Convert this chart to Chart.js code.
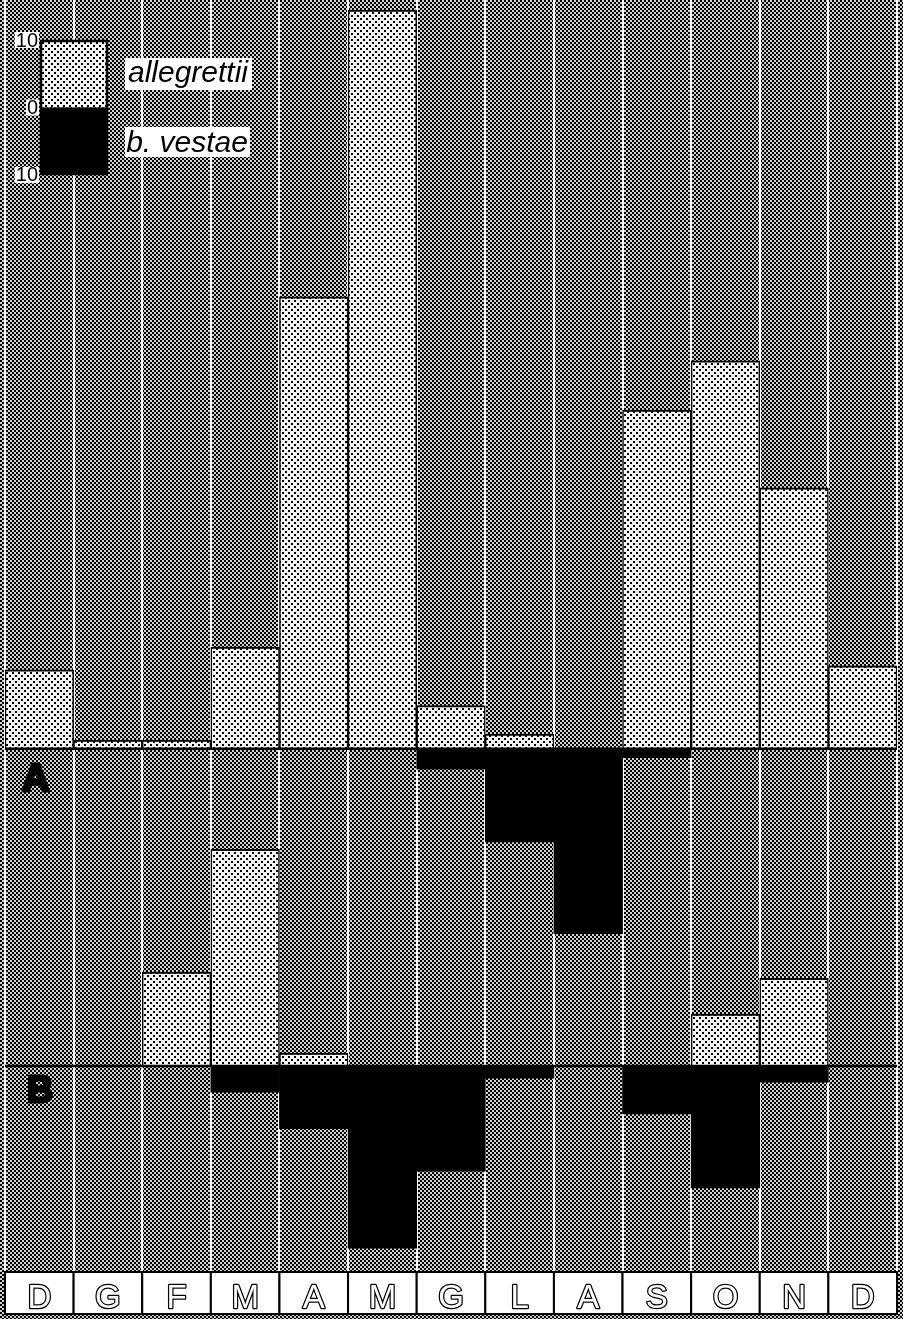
<!DOCTYPE html>
<html>
<head>
<meta charset="utf-8">
<script src="https://cdn.jsdelivr.net/npm/chart.js@4.4.1/dist/chart.umd.min.js"></script>
<style>
  html, body { margin: 0; padding: 0; background: #fff; }
  #wrap { width: 903px; height: 1319px; }
</style>
</head>
<body>
<div id="wrap"><canvas id="chart"></canvas></div>
<script>
'use strict';

// months, December to December
let months = ['D', 'G', 'F', 'M', 'A', 'M', 'G', 'L', 'A', 'S', 'O', 'N', 'D'];

// panel A
let allegrettiiA = [11.7, 1.3, 1.3, 15.1, 67, 109.5, 6.4, 2.2, 0, 50.2, 57.5, 38.7, 12.3];
let vestaeA = [0, 0, 0, 0, 0, 0, -3.0, -13.8, -27.4, -1.3, 0, 0, 0];

// panel B
let allegrettiiB = [0, 0, 13.9, 32.1, 1.9, 0, 0, 0, 0, 0, 7.7, 13.0, 0];
let vestaeB = [0, 0, 0, -3.9, -9.3, -27, -15.6, -1.8, 0, -7.1, -18.1, -2.4, 0];

// scale key
let keyTicks = ['10', '0', '10'];

let canvasElem = document.getElementById('chart');

function makePattern(size, dot, base, spots) {
  let c = document.createElement('canvas');
  c.width = size;
  c.height = size;
  let g = c.getContext('2d');
  g.fillStyle = base;
  g.fillRect(0, 0, size, size);
  g.fillStyle = '#000';
  spots.forEach(s => g.fillRect(s[0], s[1], dot, dot));
  return canvasElem.getContext('2d').createPattern(c, 'repeat');
}

let darkDots = makePattern(4, 2, '#cfcfcf', [[0, 0], [2, 2]]);
let lightDots = makePattern(6, 2, '#f4f4f4', [[0, 0], [3, 3]]);

// background, month boxes (white column rules come from the x grid)
let decor = {
  id: 'decor',
  beforeDraw(chart) {
    let ctx = chart.ctx;
    let x = chart.scales.x;
    ctx.save();
    ctx.fillStyle = darkDots;
    ctx.fillRect(0, 0, chart.width, chart.height);

    let step = x.getPixelForValue(1) - x.getPixelForValue(0);
    let top = chart.chartArea.bottom;
    ctx.fillStyle = '#fff';
    ctx.strokeStyle = '#000';
    ctx.lineWidth = 2;
    months.forEach((m, i) => {
      let left = x.getPixelForValue(i) - step / 2;
      ctx.fillRect(left, top, step, 43);
      ctx.strokeRect(left, top + 1, step, 42);
    });
    ctx.restore();
    // keeps the outlined month letters free of miter spikes
    ctx.lineJoin = 'round';
  },
  afterDatasetsDraw(chart) {
    let ctx = chart.ctx;
    let area = chart.chartArea;
    let yA = chart.scales.yA;
    let yB = chart.scales.yB;
    ctx.save();

    // zero lines
    ctx.strokeStyle = '#000';
    ctx.lineWidth = 2.5;
    [yA, yB].forEach(s => {
      let y = s.getPixelForValue(0);
      ctx.beginPath();
      ctx.moveTo(area.left, y);
      ctx.lineTo(area.right, y);
      ctx.stroke();
    });

    // panel letters, heavy
    ctx.fillStyle = '#000';
    ctx.lineWidth = 3;
    ctx.lineJoin = 'round';
    ctx.textBaseline = 'alphabetic';
    ctx.font = 'bold 38px "Liberation Sans", Arial, sans-serif';
    ctx.fillText('A', 22, yA.getPixelForValue(0) + 42);
    ctx.strokeText('A', 22, yA.getPixelForValue(0) + 42);
    ctx.font = 'bold 36px "Liberation Sans", Arial, sans-serif';
    ctx.fillText('B', 27, yB.getPixelForValue(0) + 36);
    ctx.strokeText('B', 27, yB.getPixelForValue(0) + 36);

    // scale key: 10 units each way
    let unit = yA.getPixelForValue(0) - yA.getPixelForValue(10);
    let kx = 40, ky = 40, kw = 68;
    ctx.fillStyle = lightDots;
    ctx.fillRect(kx, ky, kw, unit);
    ctx.fillStyle = '#000';
    ctx.fillRect(kx, ky + unit, kw, unit);
    ctx.lineWidth = 2.5;
    ctx.strokeRect(kx + 1, ky + 1, kw - 2, unit * 2 - 2);

    ctx.font = '20px "Liberation Sans Narrow", "Liberation Sans", sans-serif';
    ctx.textAlign = 'right';
    ctx.textBaseline = 'middle';
    keyTicks.forEach((t, i) => {
      let ty = ky + unit * i;
      let w = ctx.measureText(t).width;
      ctx.fillStyle = '#fff';
      ctx.fillRect(kx - 3 - w, ty - 8, w + 2, 16);
      ctx.fillStyle = '#000';
      ctx.fillText(t, kx - 2, ty + 1);
    });

    // species names
    ctx.textAlign = 'center';
    ctx.textBaseline = 'alphabetic';
    ctx.font = 'italic 30px "Liberation Sans", Arial, sans-serif';
    ctx.fillStyle = '#fff';
    ctx.fillRect(125, 58, 127, 32);
    ctx.fillRect(125, 127, 125, 30);
    ctx.fillStyle = '#000';
    ctx.fillText('allegrettii', 188, 82);
    ctx.fillText('b. vestae', 187, 152);
    ctx.restore();
  }
};

function barSet(label, values, axis, up) {
  return {
    label: label,
    data: values,
    yAxisID: axis,
    grouped: false,
    barPercentage: 1,
    categoryPercentage: 1,
    backgroundColor: up ? lightDots : '#000',
    borderColor: '#000',
    borderWidth: up ? { top: 2, left: 1.5, right: 1.5, bottom: 0 } : 0,
    borderSkipped: 'start',
  };
}

let data = {
  labels: months,
  datasets: [
    barSet('allegrettii', allegrettiiA, 'yA', true),
    barSet('b. vestae', vestaeA, 'yA', false),
    barSet('allegrettii', allegrettiiB, 'yB', true),
    barSet('b. vestae', vestaeB, 'yB', false),
  ],
};

// both panels share the full height; the ranges place each zero line
function hiddenAxis(opts) {
  return Object.assign({
    type: 'linear',
    position: 'left',
    ticks: { display: false },
    grid: { display: false },
    border: { display: false },
    afterFit: s => { s.width = 0; },
  }, opts);
}

let config = {
  type: 'bar',
  data: data,
  options: {
    responsive: true,
    maintainAspectRatio: false,
    animation: false,
    events: [],
    layout: { padding: { left: 5, right: 6, top: 0, bottom: 0 } },
    plugins: {
      legend: { display: false },
      tooltip: { enabled: false },
    },
    scales: {
      x: {
        type: 'category',
        grid: { display: true, offset: true, color: '#fff', lineWidth: 2, drawTicks: false },
        border: { display: false },
        afterFit: s => { s.height = 48; },
        ticks: {
          autoSkip: false,
          maxRotation: 0,
          padding: 8,
          color: '#fff',
          textStrokeColor: '#000',
          textStrokeWidth: 2.5,
          font: { family: '"Liberation Sans", Arial, sans-serif', size: 33 },
        },
      },
      yA: hiddenAxis({ min: -77.4, max: 111 }),
      yB: hiddenAxis({ min: -30.4, max: 158 }),
    },
  },
  plugins: [decor],
};

new Chart(canvasElem, config);
</script>
</body>
</html>
